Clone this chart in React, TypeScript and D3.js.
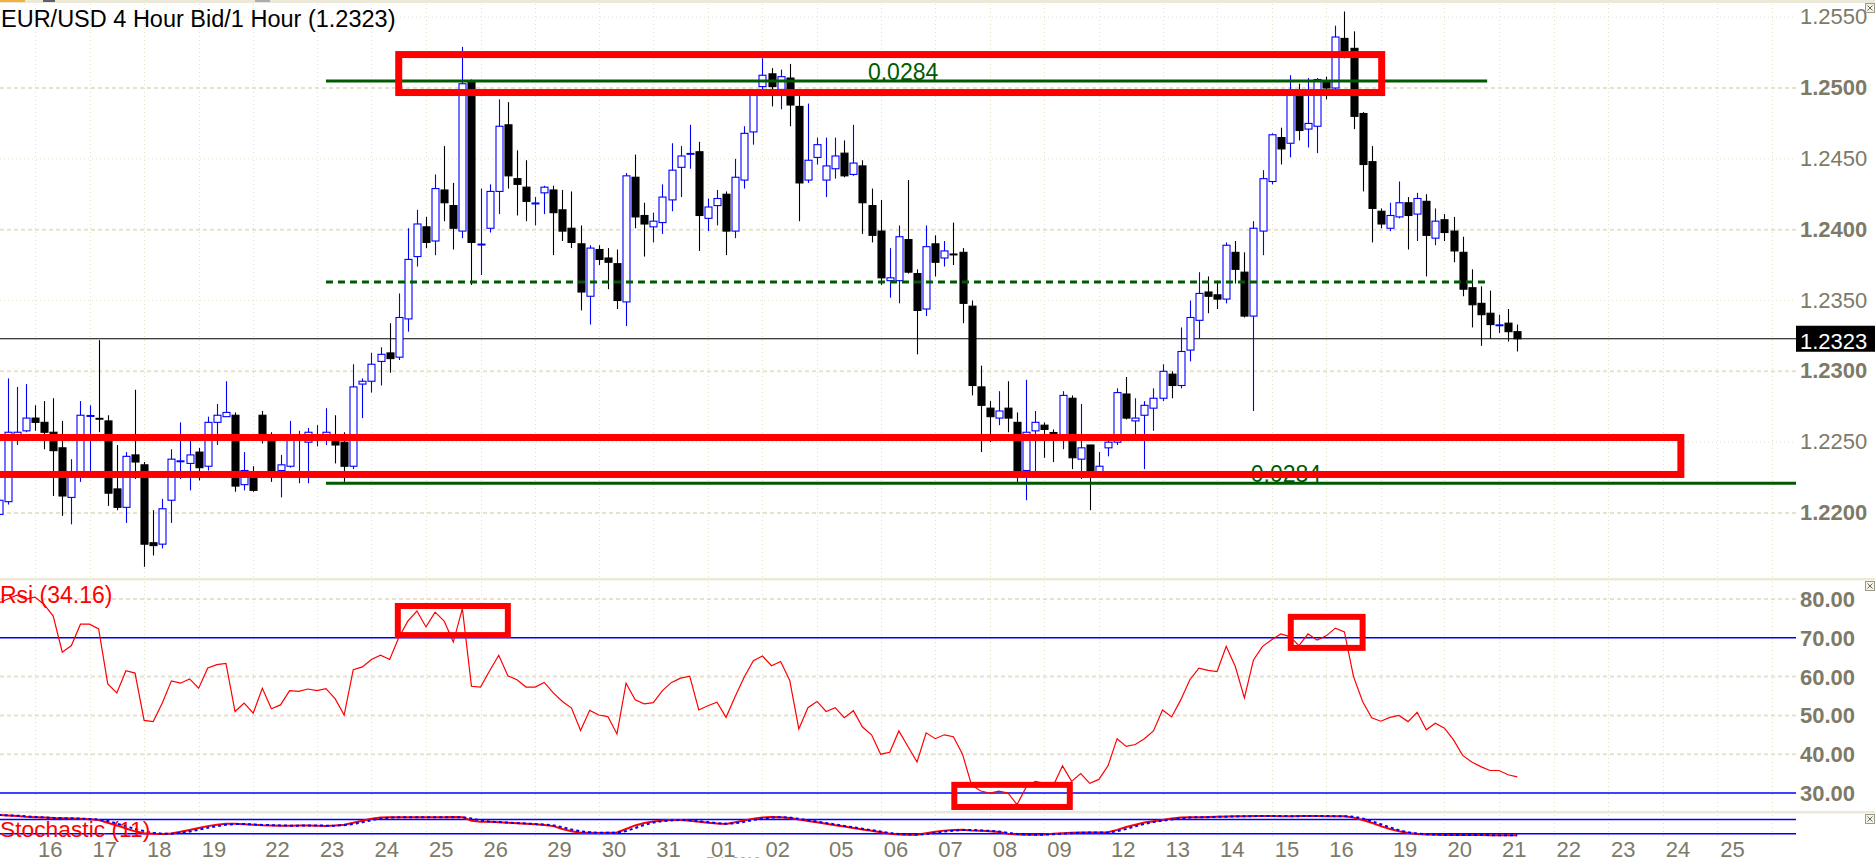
import * as d3 from "d3";

const W = 1875;
const H = 858;
const PLOT_R = 1796;
const FONT = '"Liberation Sans", Arial, Helvetica, sans-serif';
const AXIS_GREY = "#7d7a68";

// bar index k: 0 = first 4h bar of 16 Jan, negative = tail of 15 Jan
const FIRST_K = -4;

// [open, high, low, close], one row per 4h bar from k = -4
const candles: [number, number, number, number][] = [
  [1.2199, 1.2212, 1.2196, 1.2209], [1.2208, 1.2295, 1.2206, 1.2257], [1.2254, 1.2289, 1.2248, 1.2257], [1.2258, 1.2291, 1.2257, 1.2267],
  // 16 Jan
  [1.2267, 1.2276, 1.2258, 1.2264], [1.2264, 1.2279, 1.2245, 1.2257], [1.2257, 1.2281, 1.2212, 1.2244], [1.2246, 1.2265, 1.2198, 1.2212], [1.2211, 1.2238, 1.2192, 1.2228], [1.2228, 1.2279, 1.2222, 1.2269],
  // 17 Jan
  [1.2268, 1.2276, 1.2229, 1.2269], [1.2267, 1.2322, 1.2257, 1.2266], [1.2265, 1.2269, 1.2205, 1.2214], [1.2217, 1.2248, 1.2202, 1.2204], [1.2204, 1.2243, 1.2193, 1.2240], [1.2241, 1.2287, 1.2224, 1.2236],
  // 18 Jan
  [1.2234, 1.2236, 1.2162, 1.2178], [1.2179, 1.2202, 1.2170, 1.2177], [1.2178, 1.2210, 1.2175, 1.2203], [1.2209, 1.2245, 1.2193, 1.2238], [1.2236, 1.2264, 1.2224, 1.2237], [1.2235, 1.2252, 1.2216, 1.2241],
  // 19 Jan
  [1.2243, 1.2246, 1.2223, 1.2232], [1.2233, 1.2268, 1.2230, 1.2264], [1.2264, 1.2277, 1.2248, 1.2269], [1.2268, 1.2293, 1.2268, 1.2271], [1.2269, 1.2271, 1.2215, 1.2219], [1.2220, 1.2243, 1.2216, 1.2230],
  // Sunday bar + 22 Jan
  [1.2228, 1.2233, 1.2215, 1.2216],
  [1.2269, 1.2272, 1.2249, 1.2252], [1.2252, 1.2257, 1.2222, 1.2230], [1.2230, 1.2241, 1.2211, 1.2234], [1.2233, 1.2265, 1.2232, 1.2255], [1.2253, 1.2258, 1.2221, 1.2254], [1.2250, 1.2260, 1.2221, 1.2257],
  // 23 Jan
  [1.2252, 1.2262, 1.2247, 1.2254], [1.2255, 1.2274, 1.2248, 1.2257], [1.2252, 1.2269, 1.2235, 1.2248], [1.2250, 1.2257, 1.2222, 1.2233], [1.2233, 1.2305, 1.2231, 1.2289], [1.2291, 1.2295, 1.2267, 1.2293],
  // 24 Jan
  [1.2293, 1.2313, 1.2285, 1.2305], [1.2307, 1.2317, 1.2290, 1.2312], [1.2313, 1.2334, 1.2299, 1.2309], [1.2310, 1.2355, 1.2308, 1.2338], [1.2337, 1.2401, 1.2328, 1.2379], [1.2381, 1.2414, 1.2374, 1.2404],
  // 25 Jan
  [1.2402, 1.2409, 1.2387, 1.2391], [1.2392, 1.2439, 1.2382, 1.2429], [1.2428, 1.2459, 1.2406, 1.2419], [1.2417, 1.2433, 1.2386, 1.2401], [1.2399, 1.2529, 1.2394, 1.2503], [1.2505, 1.2506, 1.2361, 1.2391],
  // 26 Jan
  [1.2389, 1.2429, 1.2368, 1.2390], [1.2401, 1.2432, 1.2398, 1.2427], [1.2427, 1.2492, 1.2411, 1.2473], [1.2474, 1.2490, 1.2429, 1.2438], [1.2436, 1.2456, 1.2410, 1.2432], [1.2430, 1.2449, 1.2406, 1.2420],
  // Sunday bar + 29 Jan
  [1.2418, 1.2423, 1.2403, 1.2419],
  [1.2426, 1.2431, 1.2411, 1.2430], [1.2428, 1.2431, 1.2382, 1.2412], [1.2414, 1.2428, 1.2392, 1.2399], [1.2401, 1.2427, 1.2387, 1.2391], [1.2390, 1.2403, 1.2343, 1.2356], [1.2353, 1.2389, 1.2333, 1.2387],
  // 30 Jan
  [1.2386, 1.2389, 1.2375, 1.2379], [1.2380, 1.2387, 1.2358, 1.2377], [1.2376, 1.2386, 1.2344, 1.2350], [1.2349, 1.2440, 1.2332, 1.2438], [1.2437, 1.2453, 1.2401, 1.2409], [1.2410, 1.2419, 1.2381, 1.2404],
  // 31 Jan
  [1.2402, 1.2412, 1.2391, 1.2406], [1.2405, 1.2432, 1.2397, 1.2423], [1.2421, 1.2461, 1.2413, 1.2442], [1.2444, 1.2459, 1.2423, 1.2452], [1.2453, 1.2474, 1.2443, 1.2454], [1.2455, 1.2462, 1.2385, 1.2410],
  // 01 Feb
  [1.2408, 1.2422, 1.2399, 1.2416], [1.2417, 1.2428, 1.2403, 1.2422], [1.2425, 1.2427, 1.2382, 1.2399], [1.2399, 1.2450, 1.2394, 1.2437], [1.2435, 1.2473, 1.2429, 1.2468], [1.2469, 1.2499, 1.2460, 1.2496],
  // 02 Feb
  [1.2501, 1.2521, 1.2497, 1.2509], [1.2510, 1.2514, 1.2487, 1.2501], [1.2499, 1.2513, 1.2485, 1.2508], [1.2507, 1.2517, 1.2473, 1.2488], [1.2487, 1.2496, 1.2406, 1.2433], [1.2435, 1.2489, 1.2433, 1.2449],
  // Sunday bar + 05 Feb
  [1.2451, 1.2465, 1.2446, 1.2460],
  [1.2435, 1.2465, 1.2423, 1.2445], [1.2443, 1.2465, 1.2436, 1.2452], [1.2454, 1.2463, 1.2437, 1.2438], [1.2439, 1.2474, 1.2438, 1.2447], [1.2445, 1.2449, 1.2397, 1.2419], [1.2417, 1.2429, 1.2391, 1.2396],
  // 06 Feb
  [1.2399, 1.2421, 1.2361, 1.2366], [1.2364, 1.2387, 1.2352, 1.2366], [1.2364, 1.2403, 1.2348, 1.2395], [1.2393, 1.2435, 1.2369, 1.2370], [1.2369, 1.2372, 1.2312, 1.2343], [1.2344, 1.2403, 1.2339, 1.2388],
  // 07 Feb
  [1.2390, 1.2396, 1.2367, 1.2377], [1.2380, 1.2392, 1.2374, 1.2385], [1.2383, 1.2405, 1.2375, 1.2382], [1.2384, 1.2387, 1.2334, 1.2348], [1.2346, 1.2350, 1.2283, 1.2290], [1.2289, 1.2304, 1.2243, 1.2276],
  // 08 Feb
  [1.2274, 1.2279, 1.2250, 1.2268], [1.2267, 1.2286, 1.2262, 1.2272], [1.2274, 1.2293, 1.2257, 1.2267], [1.2264, 1.2271, 1.2222, 1.2230], [1.2230, 1.2294, 1.2209, 1.2257], [1.2258, 1.2272, 1.2228, 1.2264],
  // 09 Feb
  [1.2262, 1.2264, 1.2239, 1.2259], [1.2257, 1.2259, 1.2236, 1.2256], [1.2253, 1.2286, 1.2245, 1.2283], [1.2281, 1.2283, 1.2231, 1.2239], [1.2238, 1.2277, 1.2224, 1.2246], [1.2248, 1.2248, 1.2202, 1.2227],
  // Sunday bar + 12 Feb
  [1.2226, 1.2243, 1.2225, 1.2233],
  [1.2246, 1.2254, 1.2240, 1.2250], [1.2250, 1.2288, 1.2248, 1.2285], [1.2284, 1.2296, 1.2266, 1.2267], [1.2265, 1.2281, 1.2255, 1.2267], [1.2269, 1.2279, 1.2231, 1.2276], [1.2274, 1.2288, 1.2258, 1.2281],
  // 13 Feb
  [1.2281, 1.2305, 1.2279, 1.2300], [1.2298, 1.2300, 1.2281, 1.2290], [1.2290, 1.2331, 1.2288, 1.2314], [1.2315, 1.2350, 1.2307, 1.2338], [1.2336, 1.2370, 1.2323, 1.2355], [1.2356, 1.2367, 1.2341, 1.2353],
  // 14 Feb
  [1.2354, 1.2364, 1.2344, 1.2351], [1.2351, 1.2391, 1.2348, 1.2389], [1.2384, 1.2392, 1.2362, 1.2372], [1.2370, 1.2384, 1.2338, 1.2339], [1.2339, 1.2406, 1.2272, 1.2401], [1.2399, 1.2442, 1.2382, 1.2436],
  // 15 Feb
  [1.2434, 1.2468, 1.2432, 1.2467], [1.2465, 1.2472, 1.2446, 1.2457], [1.2461, 1.2509, 1.2451, 1.2495], [1.2497, 1.2503, 1.2463, 1.2470], [1.2471, 1.2507, 1.2458, 1.2475], [1.2473, 1.2507, 1.2454, 1.2506],
  // 16 Feb
  [1.2505, 1.2508, 1.2492, 1.2500], [1.2500, 1.2544, 1.2499, 1.2536], [1.2535, 1.2554, 1.2521, 1.2526], [1.2528, 1.2540, 1.2471, 1.2480], [1.2482, 1.2483, 1.2427, 1.2446], [1.2448, 1.2459, 1.2391, 1.2415],
  // Sunday bar + 19 Feb
  [1.2413, 1.2415, 1.2401, 1.2404],
  [1.2401, 1.2419, 1.2399, 1.2410], [1.2409, 1.2434, 1.2408, 1.2419], [1.2419, 1.2423, 1.2386, 1.2410], [1.2411, 1.2426, 1.2392, 1.2422], [1.2420, 1.2425, 1.2367, 1.2396], [1.2394, 1.2415, 1.2389, 1.2406],
  // 20 Feb
  [1.2407, 1.2411, 1.2392, 1.2398], [1.2399, 1.2409, 1.2377, 1.2385], [1.2384, 1.2395, 1.2353, 1.2358], [1.2359, 1.2372, 1.2331, 1.2347], [1.2348, 1.2360, 1.2318, 1.2340], [1.2341, 1.2357, 1.2323, 1.2333],
  // 21 Feb
  [1.2332, 1.2340, 1.2327, 1.2333], [1.2334, 1.2344, 1.2321, 1.2328], [1.2328, 1.2333, 1.2314, 1.2323],
];

// RSI, one value per bar from k = -4
const rsi = [
  79, 80, 81, 80, 80.5, 78.6, 75.6, 66.3, 68.0, 73.5,
  73.5, 72.3, 58.1, 55.8, 61.5, 60.9, 48.7, 48.4, 53.2, 58.9,
  58.3, 59.4, 57.0, 62.2, 63.1, 63.4, 51.0, 53.2, 50.6, 57.0,
  51.7, 52.7, 56.4, 56.2, 56.8, 56.4, 56.9, 54.3, 50.1, 61.8,
  62.5, 64.4, 65.5, 64.4, 70.0, 74.3, 76.9, 72.8, 76.6, 74.3,
  68.9, 77.5, 57.5, 57.3, 61.5, 65.5, 60.2, 59.2, 57.3, 57.3,
  58.5, 55.8, 53.6, 51.9, 46.1, 51.3, 50.1, 49.7, 45.2, 58.3,
  54.0, 53.0, 53.3, 56.4, 58.5, 59.6, 60.1, 51.4, 52.5, 53.4,
  49.5, 54.9, 59.9, 64.1, 65.3, 62.8, 63.9, 59.0, 46.5, 52.0,
  53.6, 51.0, 52.0, 49.4, 51.2, 47.0, 45.0, 40.0, 40.5, 46.0,
  42.0, 38.0, 45.5, 44.0, 45.0, 44.5, 40.0, 32.0, 30.5, 30.0,
  30.5, 30.0, 27.0, 31.5, 33.0, 32.5, 32.0, 37.0, 33.0, 35.0,
  32.5, 33.5, 37.0, 44.0, 42.0, 42.5, 44.0, 46.0, 51.4, 49.6,
  54.0, 59.2, 62.2, 61.6, 61.3, 67.8, 62.6, 54.5, 64.3, 67.8,
  69.5, 71.0, 70.3, 68.0, 71.0, 69.4, 70.5, 72.5, 71.5, 60.0,
  53.6, 49.4, 48.5, 49.5, 50.0, 48.4, 50.8, 46.3, 48.0, 46.7,
  43.7, 39.7, 38.0, 36.8, 35.8, 35.8, 34.7, 34.16,
];

// Stochastic (11) %K and %D, one value per bar from k = -4
const stochK = [
  99, 97, 95, 92, 90, 88, 86, 85, 84, 83,
  81, 78, 66, 55, 42, 30, 22, 20, 19, 21,
  28, 36, 44, 52, 58, 62, 62, 60, 58, 56,
  55, 54, 54, 55, 55, 54, 53, 55, 58, 66,
  75, 83, 88, 89, 90, 90, 90, 89, 90, 90,
  91, 90, 75, 70, 70, 68, 66, 64, 62, 60,
  57, 52, 40, 30, 24, 24, 23, 24, 25, 40,
  55, 65, 72, 76, 78, 78, 75, 70, 66, 63,
  61, 68, 76, 83, 88, 91, 90, 86, 80, 74,
  68, 62, 56, 50, 44, 38, 32, 26, 20, 17,
  16, 16, 22, 28, 33, 36, 37, 34, 32, 30,
  27, 20, 17, 16, 16, 17, 20, 22, 24, 25,
  25, 25, 26, 36, 48, 58, 67, 73, 78, 84,
  88, 90, 90, 91, 92, 93, 94, 94, 95, 95,
  95, 94, 94, 95, 95, 95, 94, 94, 94, 88,
  78, 66, 52, 40, 30, 23, 19, 17, 16, 15,
  15, 14, 14, 14, 13, 13, 13, 13,
];

const stochD = [
  99, 98, 96, 94, 91, 89, 87, 86, 85, 84,
  82, 80, 74, 63, 52, 40, 31, 24, 20, 20,
  23, 29, 37, 45, 52, 58, 61, 61, 59, 57,
  56, 55, 54, 54, 55, 55, 54, 54, 56, 61,
  68, 77, 84, 88, 89, 90, 90, 90, 90, 90,
  90, 90, 84, 76, 71, 69, 67, 65, 63, 61,
  59, 55, 48, 38, 30, 26, 24, 24, 24, 31,
  44, 57, 67, 73, 76, 78, 77, 73, 69, 65,
  62, 64, 70, 78, 84, 88, 90, 88, 83, 77,
  71, 65, 59, 53, 47, 41, 35, 29, 23, 19,
  17, 16, 18, 23, 29, 33, 36, 36, 34, 32,
  29, 24, 19, 17, 16, 16, 18, 20, 22, 24,
  25, 25, 25, 30, 40, 51, 61, 69, 75, 80,
  85, 88, 90, 90, 91, 92, 93, 94, 94, 95,
  95, 95, 94, 94, 95, 95, 95, 94, 94, 92,
  84, 73, 60, 47, 35, 26, 21, 18, 17, 16,
  15, 15, 14, 14, 14, 13, 13, 13,
];

// date labels and the bar (k) where each date starts
const dayLabels = [
  "16", "17", "18", "19", "22", "23", "24", "25", "26", "29", "30", "31", "01", "02",
  "05", "06", "07", "08", "09", "12", "13", "14", "15", "16", "19", "20", "21",
  "22", "23", "24", "25",
];
const dayFirstBar = [
  0, 6, 12, 18, 25, 31, 37, 43, 49, 56, 62, 68, 74, 80,
  87, 93, 99, 105, 111, 118, 124, 130, 136, 142, 149, 155, 161,
  167, 173, 179, 185,
];
// session gridlines (Monday sessions open on the Sunday bar)
const gridBars = [
  0, 6, 12, 18, 24, 31, 37, 43, 49, 55, 62, 68, 74, 80,
  86, 93, 99, 105, 111, 117, 124, 130, 136, 142, 148, 155, 161,
  167, 173, 179, 185, 191,
];

const priceTicks = [1.22, 1.225, 1.23, 1.235, 1.24, 1.245, 1.25, 1.255];
const rsiTicks = [30, 40, 50, 60, 70, 80];

const LAST_PRICE = 1.2323;
const RANGE_TOP = 1.2505;
const RANGE_MID = 1.2363;
const RANGE_LOW = 1.2221;

// scales
const x = d3.scaleLinear().domain([0, 161]).range([35, 1499]);
const yP = d3.scaleLinear().domain([1.22, 1.25]).range([513, 88]);
const yR = d3.scaleLinear().domain([30, 80]).range([793, 599]);
const yS = d3.scaleLinear().domain([20, 80]).range([833.7, 819.5]);

const MAIN_TOP = 4;
const MAIN_BOTTOM = 578;
const RSI_TOP = 580;
const RSI_BOTTOM = 811;
const STO_TOP = 813;
const STO_BOTTOM = 839;

function Candles() {
  return (
    <g>
      {candles.map(([o, h, l, c], i) => {
        const k = i + FIRST_K;
        const cx = Math.round(x(k)) + 0.5;
        const up = c >= o;
        const col = up ? "#0000ff" : "#000000";
        const yTop = yP(Math.max(o, c));
        const yBot = yP(Math.min(o, c));
        const bh = yBot - yTop;
        return (
          <g key={i}>
            <line x1={cx} x2={cx} y1={yP(h)} y2={yP(l)} stroke={col} strokeWidth={1.1} />
            {bh < 1.6 ? (
              <line x1={cx - 4} x2={cx + 4} y1={yTop + bh / 2} y2={yTop + bh / 2} stroke={col} strokeWidth={2} />
            ) : (
              <rect
                x={cx - 3.5}
                y={yTop}
                width={7}
                height={bh}
                fill={up ? "#ffffff" : "#000000"}
                stroke={col}
                strokeWidth={1.1}
              />
            )}
          </g>
        );
      })}
    </g>
  );
}

export default function App() {
  const rsiLine = d3
    .line<number>()
    .x((_, i) => x(i + FIRST_K))
    .y((v) => yR(v))(rsi);
  const kLine = d3
    .line<number>()
    .x((_, i) => x(i + FIRST_K))
    .y((v) => yS(v))(stochK);
  const dLine = d3
    .line<number>()
    .x((_, i) => x(i + FIRST_K))
    .y((v) => yS(v))(stochD);

  const vGrid = (y1: number, y2: number) =>
    gridBars.map((k) => (
      <line
        key={`g${k}-${y1}`}
        x1={Math.round(x(k)) + 0.5}
        x2={Math.round(x(k)) + 0.5}
        y1={y1}
        y2={y2}
        stroke="#e2dfc9"
        strokeDasharray="1,3"
      />
    ));

  return (
    <svg width={W} height={H} style={{ position: "absolute", left: 0, top: 0, background: "#fff" }} fontFamily={FONT}>
      <defs>
        <clipPath id="mainClip">
          <rect x={0} y={MAIN_TOP} width={PLOT_R} height={MAIN_BOTTOM - MAIN_TOP} />
        </clipPath>
        <clipPath id="rsiClip">
          <rect x={0} y={RSI_TOP} width={PLOT_R} height={RSI_BOTTOM - RSI_TOP} />
        </clipPath>
        <clipPath id="stoClip">
          <rect x={0} y={STO_TOP} width={PLOT_R} height={STO_BOTTOM - STO_TOP} />
        </clipPath>
      </defs>
      <rect width={W} height={H} fill="#ffffff" />

      {/* window strip on top */}
      <rect x={0} y={0} width={W} height={3} fill="#ece9d8" />
      <rect x={0} y={0} width={25} height={2} fill="#f2b13c" />
      <rect x={43} y={0} width={12} height={2} fill="#5a6070" />
      <rect x={255} y={0} width={15} height={2} fill="#a9acb6" />

      {/* ---------- price panel ---------- */}
      {vGrid(MAIN_TOP, MAIN_BOTTOM)}
      {priceTicks.map((t) => {
        const major = Math.round(t * 10000) % 100 === 0;
        return (
          <g key={`pt${t}`}>
            <line
              x1={0}
              x2={PLOT_R}
              y1={yP(t)}
              y2={yP(t)}
              stroke={major ? "#e6e2cd" : "#e4e1cc"}
              strokeWidth={major ? 2 : 1}
              strokeDasharray={major ? "4,3" : "1,3"}
            />
            <text
              x={1800}
              y={yP(t) + 7}
              fontSize={22}
              fontWeight={major ? "bold" : "normal"}
              fill={AXIS_GREY}
            >
              {t.toFixed(4)}
            </text>
          </g>
        );
      })}

      <g clipPath="url(#mainClip)">
        <line x1={0} x2={PLOT_R} y1={yP(LAST_PRICE)} y2={yP(LAST_PRICE)} stroke="#000" strokeWidth={1.2} />
        <Candles />
        {/* range lines */}
        <line x1={x(32)} x2={x(159.7)} y1={yP(RANGE_TOP)} y2={yP(RANGE_TOP)} stroke="#005a00" strokeWidth={3} />
        <line
          x1={x(32)}
          x2={x(159.7)}
          y1={yP(RANGE_MID)}
          y2={yP(RANGE_MID)}
          stroke="#005a00"
          strokeWidth={3}
          strokeDasharray="7,5"
        />
        <line x1={x(32)} x2={PLOT_R} y1={yP(RANGE_LOW)} y2={yP(RANGE_LOW)} stroke="#005a00" strokeWidth={3} />
        <text x={x(91.6)} y={yP(RANGE_TOP) - 1} fontSize={23} fill="#005a00">
          {(RANGE_TOP - RANGE_LOW).toFixed(4)}
        </text>
        <text x={x(133.7)} y={yP(RANGE_LOW) - 1} fontSize={23} fill="#005a00">
          {(RANGE_TOP - RANGE_LOW).toFixed(4)}
        </text>
        {/* hand drawn zones */}
        <rect
          x={x(40)}
          y={yP(1.25236)}
          width={x(148.1) - x(40)}
          height={yP(1.24968) - yP(1.25236)}
          fill="none"
          stroke="#ff0000"
          strokeWidth={7}
        />
        <rect
          x={x(-5)}
          y={yP(1.22533)}
          width={x(181) - x(-5)}
          height={yP(1.22272) - yP(1.22533)}
          fill="none"
          stroke="#ff0000"
          strokeWidth={7}
        />
      </g>

      {/* last price tag */}
      <rect x={PLOT_R} y={yP(LAST_PRICE) - 13} width={W - PLOT_R} height={26} fill="#000" />
      <text x={1800} y={yP(LAST_PRICE) + 10} fontSize={22} fill="#ffffff">
        {LAST_PRICE.toFixed(4)}
      </text>

      <text x={1} y={27} fontSize={23.5} fill="#000">
        EUR/USD 4 Hour Bid/1 Hour ({LAST_PRICE.toFixed(4)})
      </text>

      {/* panel separators */}
      <rect x={0} y={MAIN_BOTTOM} width={W} height={2.5} fill="#ece9d8" />
      <rect x={0} y={RSI_BOTTOM} width={W} height={2.5} fill="#ece9d8" />

      {/* ---------- RSI panel ---------- */}
      {vGrid(RSI_TOP + 2, RSI_BOTTOM)}
      {rsiTicks.map((t) => (
        <g key={`rt${t}`}>
          {t === 70 || t === 30 ? (
            <line x1={0} x2={PLOT_R} y1={yR(t)} y2={yR(t)} stroke="#0000ff" strokeWidth={1.5} />
          ) : (
            <line
              x1={0}
              x2={PLOT_R}
              y1={yR(t)}
              y2={yR(t)}
              stroke="#e6e2cd"
              strokeWidth={2}
              strokeDasharray="4,3"
            />
          )}
          <text x={1800} y={yR(t) + 8} fontSize={22} fontWeight="bold" fill={AXIS_GREY}>
            {t.toFixed(2)}
          </text>
        </g>
      ))}
      <g clipPath="url(#rsiClip)">
        <path d={rsiLine ?? ""} fill="none" stroke="#ff0000" strokeWidth={1.2} />
        {[
          [39.9, 52, 78.2, 70.7],
          [138.1, 146, 75.4, 67.4],
          [101.1, 113.8, 32.1, 26.4],
        ].map(([k0, k1, v0, v1], i) => (
          <rect
            key={`rb${i}`}
            x={x(k0)}
            y={yR(v0)}
            width={x(k1) - x(k0)}
            height={yR(v1) - yR(v0)}
            fill="none"
            stroke="#ff0000"
            strokeWidth={6}
          />
        ))}
      </g>
      <text x={0} y={603} fontSize={23} fill="#ff0000">
        Rsi ({rsi[rsi.length - 1].toFixed(2)})
      </text>

      {/* ---------- Stochastic panel ---------- */}
      {vGrid(STO_TOP + 2, STO_BOTTOM)}
      <line x1={0} x2={PLOT_R} y1={yS(80)} y2={yS(80)} stroke="#0000ff" strokeWidth={1.5} />
      <line x1={0} x2={PLOT_R} y1={yS(20)} y2={yS(20)} stroke="#0000ff" strokeWidth={1.5} />
      <g clipPath="url(#stoClip)">
        <path d={kLine ?? ""} fill="none" stroke="#ff0000" strokeWidth={2} />
        <path d={dLine ?? ""} fill="none" stroke="#0000ff" strokeWidth={2} strokeDasharray="3,3" />
      </g>
      <text x={0} y={837} fontSize={22.8} fill="#ff0000">
        Stochastic (11)
      </text>

      {/* ---------- date axis ---------- */}
      {dayLabels.map((d, i) => (
        <text key={`d${i}`} x={x(dayFirstBar[i]) + 3} y={857} fontSize={22} fill={AXIS_GREY}>
          {d}
        </text>
      ))}
      <text x={x(74) - 2} y={866} fontSize={13} fill="#a9a793">
        Feb 2018
      </text>

      {/* close buttons */}
      {[3, 581, 814].map((yy) => (
        <g key={`cb${yy}`}>
          <rect x={1865.5} y={yy + 0.5} width={9} height={9} fill="#f4f2e8" stroke="#9d9a88" />
          <path
            d={`M${1867.5},${yy + 2.5}L${1872.5},${yy + 7.5}M${1872.5},${yy + 2.5}L${1867.5},${yy + 7.5}`}
            stroke="#6d6b5c"
          />
        </g>
      ))}
    </svg>
  );
}
